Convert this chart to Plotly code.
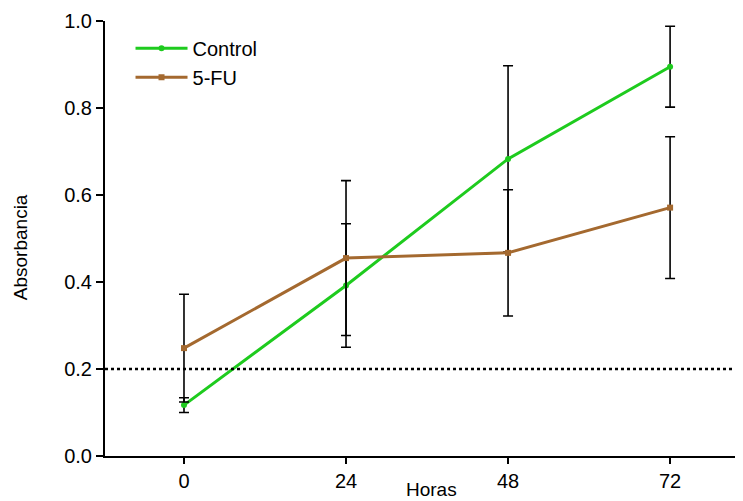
import plotly.graph_objects as go

hours = [0, 24, 48, 72]
control_mean = [0.117, 0.392, 0.683, 0.895]
control_err = [0.017, 0.142, 0.214, 0.093]
fu_mean = [0.248, 0.455, 0.467, 0.571]
fu_err = [0.124, 0.178, 0.145, 0.163]
threshold = 0.2
x_ticks = [0, 24, 48, 72]
y_ticks = [0.0, 0.2, 0.4, 0.6, 0.8, 1.0]

green = "#1ECB1E"
brown = "#A4692F"
font_family = "Liberation Sans, Arial, Helvetica, sans-serif"

fig = go.Figure()
fig.add_trace(go.Scatter(
    x=hours, y=control_mean, name="Control", mode="lines+markers",
    line=dict(color=green, width=3), marker=dict(symbol="circle", size=6, color=green),
    error_y=dict(type="data", array=control_err, visible=True, color="black", thickness=1.6, width=5),
))
fig.add_trace(go.Scatter(
    x=hours, y=fu_mean, name="5-FU", mode="lines+markers",
    line=dict(color=brown, width=3), marker=dict(symbol="square", size=6, color=brown),
    error_y=dict(type="data", array=fu_err, visible=True, color="black", thickness=1.6, width=5),
))

fig.add_shape(type="line", xref="paper", x0=0, x1=1, yref="y", y0=threshold, y1=threshold,
              line=dict(color="black", width=2.5, dash="dot"))

fig.add_annotation(text="Horas", xref="paper", yref="paper", x=0.511, y=0,
                   xanchor="center", yanchor="middle", yshift=-33, showarrow=False,
                   font=dict(size=19))
fig.add_annotation(text="Absorbancia", xref="paper", yref="paper", x=0, y=0.48,
                   xanchor="center", yanchor="middle", xshift=-85, textangle=-90,
                   showarrow=False, font=dict(size=19))

fig.update_layout(
    width=735, height=493,
    margin=dict(l=97, r=0, t=13, b=45),
    paper_bgcolor="white", plot_bgcolor="white",
    font=dict(family=font_family, size=20, color="black"),
    showlegend=True,
    legend=dict(x=0.04, y=0.982, xanchor="left", yanchor="top", bgcolor="rgba(0,0,0,0)",
                font=dict(size=20), itemwidth=52, tracegroupgap=0),
    xaxis=dict(range=[-11.7, 82.8], tickvals=x_ticks, ticktext=[str(v) for v in x_ticks],
               showline=True, linecolor="black", linewidth=2, showgrid=False, zeroline=False,
               ticks="outside", ticklen=6, tickwidth=2, tickcolor="black", automargin=False),
    yaxis=dict(range=[0, 1.0], tickvals=y_ticks, ticktext=[f"{v:.1f}" for v in y_ticks],
               showline=True, linecolor="black", linewidth=2, showgrid=False, zeroline=False,
               ticks="outside", ticklen=7, tickwidth=2, tickcolor="black", automargin=False),
)

fig.write_html("out.html")
